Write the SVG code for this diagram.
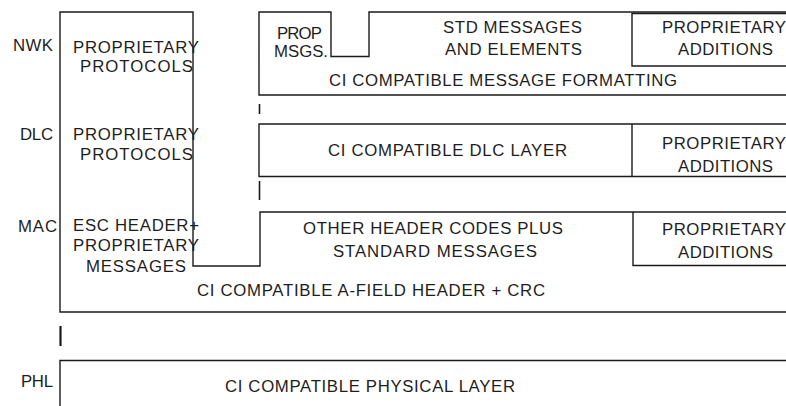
<svg xmlns="http://www.w3.org/2000/svg" width="786" height="406" viewBox="0 0 786 406">
<style>
  .ln { fill: none; stroke: #1a1a1a; stroke-width: 1.4; }
  .tk { fill: none; stroke: #1a1a1a; stroke-width: 1.6; }
  .tk2 { fill: none; stroke: #1a1a1a; stroke-width: 2.2; }
  text { font-family: "Liberation Sans", Arial, sans-serif; font-size: 16.8px; fill: #1e1e1e; }
</style>
<rect x="0" y="0" width="786" height="406" fill="#ffffff"/>

<g id="labels">
  <text x="13" y="51" textLength="40" lengthAdjust="spacing">NWK</text>
  <text x="20" y="140" textLength="33" lengthAdjust="spacing">DLC</text>
  <text x="18" y="231.5" textLength="39" lengthAdjust="spacing">MAC</text>
  <text x="21" y="387" textLength="32" lengthAdjust="spacing">PHL</text>
</g>

<g id="mac-frame">
  <path class="ln" d="M790,312 L60,312 L60,12 L193,12 L193,266 L260,266 L260,212 L790,212"/>
  <text x="73" y="53" textLength="126" lengthAdjust="spacing">PROPRIETARY</text>
  <text x="80" y="71.5" textLength="113" lengthAdjust="spacing">PROTOCOLS</text>
  <text x="73" y="139.5" textLength="126" lengthAdjust="spacing">PROPRIETARY</text>
  <text x="80" y="160" textLength="113" lengthAdjust="spacing">PROTOCOLS</text>
  <text x="73" y="230.5" textLength="126" lengthAdjust="spacing">ESC HEADER+</text>
  <text x="73" y="250.7" textLength="126" lengthAdjust="spacing">PROPRIETARY</text>
  <text x="86" y="272" textLength="100" lengthAdjust="spacing">MESSAGES</text>
  <text x="197" y="296" textLength="348" lengthAdjust="spacing">CI COMPATIBLE A-FIELD HEADER + CRC</text>
</g>

<g id="mac-standard">
  <text x="303" y="234" textLength="260" lengthAdjust="spacing">OTHER HEADER CODES PLUS</text>
  <text x="333" y="256.7" textLength="204" lengthAdjust="spacing">STANDARD MESSAGES</text>
</g>

<g id="mac-additions">
  <path class="ln" d="M633,212 L633,265.5 L790,265.5"/>
  <text x="662" y="235" textLength="124" lengthAdjust="spacing">PROPRIETARY</text>
  <text x="678" y="258.3" textLength="95" lengthAdjust="spacing">ADDITIONS</text>
</g>

<g id="nwk-frame">
  <path class="ln" d="M790,12 L369,12 L369,56.5 L331,56.5 L331,12 L259,12 L259,95 L790,95"/>
  <text x="277" y="39.3" textLength="45" lengthAdjust="spacing">PROP</text>
  <text x="274" y="56.7" textLength="54" lengthAdjust="spacing">MSGS.</text>
  <text x="329" y="86" textLength="348" lengthAdjust="spacing">CI COMPATIBLE MESSAGE FORMATTING</text>
</g>

<g id="nwk-standard">
  <text x="443" y="32.7" textLength="139" lengthAdjust="spacing">STD MESSAGES</text>
  <text x="445" y="55" textLength="137" lengthAdjust="spacing">AND ELEMENTS</text>
</g>

<g id="nwk-additions">
  <path class="ln" d="M790,13.5 L632,13.5 L632,66 L790,66"/>
  <text x="662" y="32.7" textLength="124" lengthAdjust="spacing">PROPRIETARY</text>
  <text x="678" y="55" textLength="95" lengthAdjust="spacing">ADDITIONS</text>
</g>

<g id="dlc-layer">
  <path class="ln" d="M790,124 L259,124 L259,176.5 L790,176.5 M632,124 L632,176.5"/>
  <text x="328" y="155.7" textLength="239" lengthAdjust="spacing">CI COMPATIBLE DLC LAYER</text>
  <text x="662" y="149.3" textLength="124" lengthAdjust="spacing">PROPRIETARY</text>
  <text x="678" y="171.7" textLength="95" lengthAdjust="spacing">ADDITIONS</text>
</g>

<g id="phl-layer">
  <path class="ln" d="M790,360.5 L60,360.5 L60,410"/>
  <text x="225" y="391.7" textLength="290" lengthAdjust="spacing">CI COMPATIBLE PHYSICAL LAYER</text>
</g>

<g id="connectors">
  <line class="tk" x1="259.5" y1="104" x2="259.5" y2="114"/>
  <line class="tk" x1="259.5" y1="181" x2="259.5" y2="200"/>
  <line class="tk2" x1="60.5" y1="326" x2="60.5" y2="346"/>
</g>
</svg>
